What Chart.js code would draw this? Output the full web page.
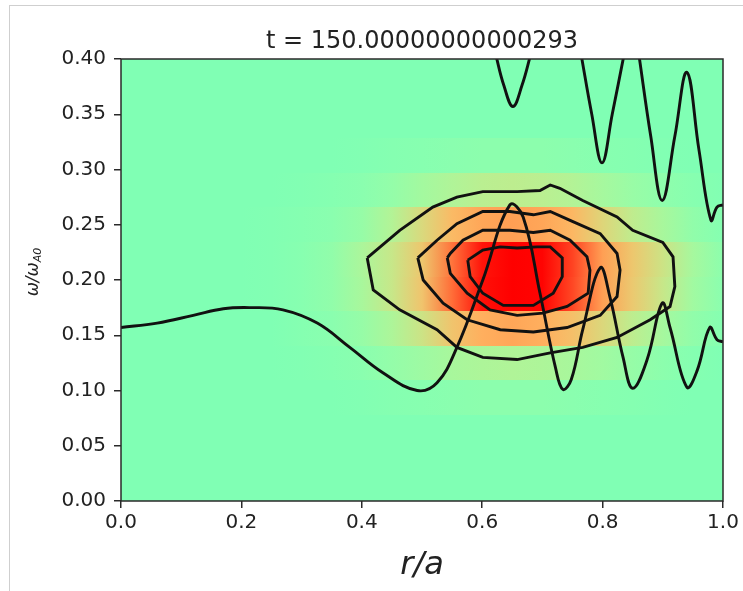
<!DOCTYPE html>
<html>
<head>
<meta charset="utf-8">
<script src="https://cdn.jsdelivr.net/npm/chart.js@4"></script>
<style>
    html, body { margin: 0; padding: 0; background: #fff; }
    #wrap { position: relative; width: 743px; height: 591px; overflow: hidden; }
    #frame { position: absolute; left: 9px; top: 5px; right: -2px; bottom: -2px;
             border-left: 1px solid #cfcfcf; border-top: 1px solid #cfcfcf; }
    canvas { position: absolute; left: 0; top: 0; }
</style>
</head>
<body>
<div id="wrap"><div id="frame"></div><canvas id="c" width="743" height="591"></canvas></div>
<script>
// ---- data ----
const TITLE = 't = 150.00000000000293';
const xTicks = [0, 0.2, 0.4, 0.6, 0.8, 1.0];
const yTicks = [0, 0.05, 0.10, 0.15, 0.20, 0.25, 0.30, 0.35, 0.40];

// heatmap: radial columns, frequency rows (row centres), intensity 0..1
const heatR = [0, 0.05, 0.1, 0.15, 0.2, 0.25, 0.3, 0.35, 0.4, 0.45, 0.5,
               0.55, 0.6, 0.65, 0.7, 0.75, 0.8, 0.85, 0.9, 0.95, 1.0];
const heatRows = [0.09375, 0.125, 0.15625, 0.1875, 0.21875, 0.25, 0.28125, 0.3125];
const heatRow1 = [0,0,0,0,0,0,0,0,0.01,0.02,0.03,0.04,0.05,0.05,0.05,0.04,0.03,0.02,0.01,0,0];
const heatRow2 = [0,0,0,0,0,0,0.01,0.02,0.04,0.08,0.12,0.16,0.18,0.19,0.18,0.16,0.13,0.09,0.05,0.02,0];
const heatRow3 = [0,0,0,0,0,0,0.02,0.04,0.09,0.18,0.3,0.44,0.52,0.55,0.52,0.46,0.36,0.24,0.15,0.07,0.02];
const heatRow4 = [0,0,0,0,0,0.01,0.03,0.07,0.16,0.28,0.44,0.72,0.96,1,0.99,0.82,0.57,0.42,0.28,0.13,0.04];
const heatRow5 = [0,0,0,0,0,0.01,0.03,0.07,0.17,0.28,0.43,0.7,0.95,1,0.99,0.83,0.57,0.43,0.3,0.15,0.05];
const heatRow6 = [0,0,0,0,0,0.01,0.02,0.04,0.09,0.2,0.35,0.48,0.55,0.57,0.55,0.49,0.37,0.25,0.16,0.07,0.02];
const heatRow7 = [0,0,0,0,0,0,0.01,0.02,0.04,0.08,0.14,0.19,0.23,0.24,0.23,0.2,0.15,0.1,0.06,0.03,0.01];
const heatRow8 = [0,0,0,0,0,0,0,0,0.01,0.02,0.03,0.04,0.05,0.05,0.05,0.04,0.03,0.02,0.01,0,0];
const heatVals = [heatRow1, heatRow2, heatRow3, heatRow4, heatRow5, heatRow6, heatRow7, heatRow8];

// contour levels of the heatmap, [r, omega]
const contour1 = [[0.409,0.220],[0.419,0.191],[0.463,0.173],[0.525,0.155],[0.558,0.139],[0.601,0.130],
    [0.658,0.128],[0.713,0.134],[0.767,0.139],[0.824,0.148],[0.879,0.164],[0.912,0.176],[0.920,0.194],
    [0.917,0.221],[0.900,0.234],[0.850,0.245],[0.824,0.257],[0.767,0.272],[0.729,0.283],[0.713,0.286],
    [0.696,0.281],[0.658,0.280],[0.601,0.280],[0.558,0.275],[0.518,0.266],[0.463,0.245],[0.409,0.220]];
const contour2 = [[0.493,0.220],[0.502,0.200],[0.535,0.179],[0.575,0.164],[0.630,0.155],[0.685,0.153],
    [0.741,0.157],[0.796,0.168],[0.824,0.185],[0.829,0.209],[0.824,0.224],[0.796,0.242],[0.746,0.254],
    [0.713,0.262],[0.685,0.259],[0.646,0.262],[0.601,0.262],[0.558,0.251],[0.525,0.236],[0.493,0.220]];
const contour3 = [[0.542,0.220],[0.547,0.206],[0.575,0.188],[0.613,0.173],[0.658,0.168],[0.701,0.170],
    [0.741,0.176],[0.776,0.188],[0.779,0.209],[0.774,0.221],[0.746,0.236],[0.713,0.245],[0.685,0.243],
    [0.646,0.245],[0.601,0.245],[0.568,0.236],[0.547,0.224],[0.542,0.220]];
const contour4 = [[0.576,0.218],[0.580,0.203],[0.601,0.188],[0.635,0.177],[0.685,0.177],[0.718,0.188],
    [0.733,0.203],[0.733,0.220],[0.713,0.230],[0.691,0.230],[0.658,0.229],[0.630,0.230],[0.601,0.227],
    [0.576,0.218]];

// continuum branches, [r, omega]
const branchLow = [[0,0.157],[0.06,0.161],[0.12,0.168],[0.17,0.174],[0.214,0.175],[0.269,0.173],
    [0.326,0.161],[0.380,0.139],[0.435,0.116],[0.492,0.100],[0.525,0.107],[0.558,0.139],[0.601,0.200],
    [0.646,0.268],[0.668,0.257],[0.696,0.188],[0.722,0.120],[0.734,0.101],[0.748,0.110],[0.767,0.155],
    [0.796,0.211],[0.812,0.185],[0.834,0.130],[0.850,0.102],[0.874,0.128],[0.899,0.179],[0.912,0.157],
    [0.940,0.103],[0.957,0.118],[0.978,0.157],[0.990,0.146],[1.0,0.144]];
const branchTop1 = [[0.622,0.405],[0.636,0.376],[0.651,0.357],[0.666,0.376],[0.681,0.405]];
const branchTop2 = [[0.764,0.405],[0.782,0.350],[0.799,0.306],[0.816,0.350],[0.836,0.405]];
const branchTop3 = [[0.860,0.405],[0.880,0.330],[0.899,0.272],[0.920,0.330],[0.940,0.388],
    [0.960,0.318],[0.980,0.254],[0.990,0.266],[1.0,0.268]];

// ---- helpers ----
function rainbow(t) {
    const c = v => Math.round(255 * Math.max(0, Math.min(1, v)));
    return `rgb(${c(Math.abs(2 * t - 0.5))},${c(Math.sin(Math.PI * t))},${c(Math.cos(Math.PI * t / 2))})`;
}
const heatColor = v => rainbow(0.5 + 0.5 * v);
const toXY = pts => pts.map(p => ({ x: p[0], y: p[1] }));

const LINE = '#111111';
function lineSet(pts, tension) {
    return {
        data: toXY(pts),
        showLine: true,
        borderColor: LINE,
        borderWidth: 2.9,
        pointRadius: 0,
        tension: tension,
        clip: 0
    };
}

const heatmapPlugin = {
    id: 'heatmap',
    beforeDatasetsDraw(chart) {
        const { ctx, chartArea: ca, scales: { x, y } } = chart;
        const rowH = heatRows[1] - heatRows[0];
        const px0 = x.getPixelForValue(heatR[0]);
        const px1 = x.getPixelForValue(heatR[heatR.length - 1]);
        ctx.save();
        ctx.beginPath();
        ctx.rect(ca.left, ca.top, ca.width, ca.height);
        ctx.clip();
        ctx.fillStyle = heatColor(0);
        ctx.fillRect(ca.left, ca.top, ca.width, ca.height);
        heatRows.forEach((w, i) => {
            const yTop = Math.round(y.getPixelForValue(w + rowH / 2));
            const yBot = Math.round(y.getPixelForValue(w - rowH / 2));
            const g = ctx.createLinearGradient(px0, 0, px1, 0);
            heatR.forEach((r, j) => {
                g.addColorStop((x.getPixelForValue(r) - px0) / (px1 - px0), heatColor(heatVals[i][j]));
            });
            ctx.fillStyle = g;
            ctx.fillRect(px0, yTop, px1 - px0, yBot - yTop);
        });
        ctx.restore();
    },
    afterDatasetsDraw(chart) {
        const { ctx, chartArea: ca } = chart;
        ctx.save();
        ctx.strokeStyle = '#2a2a2a';
        ctx.lineWidth = 1.5;
        ctx.strokeRect(ca.left, ca.top, ca.width, ca.height);
        ctx.restore();
    },
    afterDraw(chart) {
        const { ctx, chartArea: ca } = chart;
        ctx.save();
        ctx.fillStyle = '#222';
        // title, centred over the axes
        ctx.font = '24px "DejaVu Sans"';
        ctx.textAlign = 'center';
        ctx.textBaseline = 'middle';
        ctx.fillText(TITLE, (ca.left + ca.right) / 2, ca.top - 17);
        // x axis label
        ctx.font = 'italic 32px "DejaVu Sans"';
        ctx.fillText('r/a', (ca.left + ca.right) / 2, ca.bottom + 65);
        // y axis label with subscript
        ctx.translate(38, (ca.top + ca.bottom) / 2 - 8);
        ctx.rotate(-Math.PI / 2);
        ctx.textAlign = 'left';
        ctx.textBaseline = 'alphabetic';
        const mainFont = 'italic 17px "DejaVu Sans"';
        const subFont = 'italic 11px "DejaVu Sans"';
        ctx.font = mainFont;
        const w1 = ctx.measureText('ω/ω').width;
        ctx.font = subFont;
        const w2 = ctx.measureText('A0').width;
        const x0 = -(w1 + w2) / 2;
        ctx.font = mainFont;
        ctx.fillText('ω/ω', x0, 0);
        ctx.font = subFont;
        ctx.fillText('A0', x0 + w1, 3);
        ctx.restore();
    }
};

const tickFont = { family: 'DejaVu Sans', size: 20 };

new Chart(document.getElementById('c'), {
    type: 'scatter',
    data: {
        datasets: [
            lineSet(contour1, 0),
            lineSet(contour2, 0),
            lineSet(contour3, 0),
            lineSet(contour4, 0),
            lineSet(branchLow, 0.4),
            lineSet(branchTop1, 0.4),
            lineSet(branchTop2, 0.4),
            lineSet(branchTop3, 0.4)
        ]
    },
    options: {
        responsive: false,
        animation: false,
        events: [],
        layout: { padding: { left: 0, right: 20, top: 59, bottom: 0 } },
        plugins: {
            legend: { display: false },
            tooltip: { enabled: false },
            title: { display: false }
        },
        scales: {
            x: {
                type: 'linear',
                min: 0,
                max: 1,
                afterBuildTicks: s => { s.ticks = xTicks.map(v => ({ value: v })); },
                afterFit: s => { s.height = 90; },
                ticks: { callback: v => v.toFixed(1), color: '#222', font: tickFont, padding: 3, maxRotation: 0, autoSkip: false },
                grid: { drawOnChartArea: false, tickLength: 7, color: '#2a2a2a', lineWidth: 1.5 },
                border: { display: false }
            },
            y: {
                type: 'linear',
                min: 0,
                max: 0.4,
                afterBuildTicks: s => { s.ticks = yTicks.map(v => ({ value: v })); },
                afterFit: s => { s.width = 121; },
                ticks: { callback: v => v.toFixed(2), color: '#222', font: tickFont, padding: 8, autoSkip: false },
                grid: { drawOnChartArea: false, tickLength: 7, color: '#2a2a2a', lineWidth: 1.5 },
                border: { display: false }
            }
        }
    },
    plugins: [heatmapPlugin]
});
</script>
</body>
</html>
